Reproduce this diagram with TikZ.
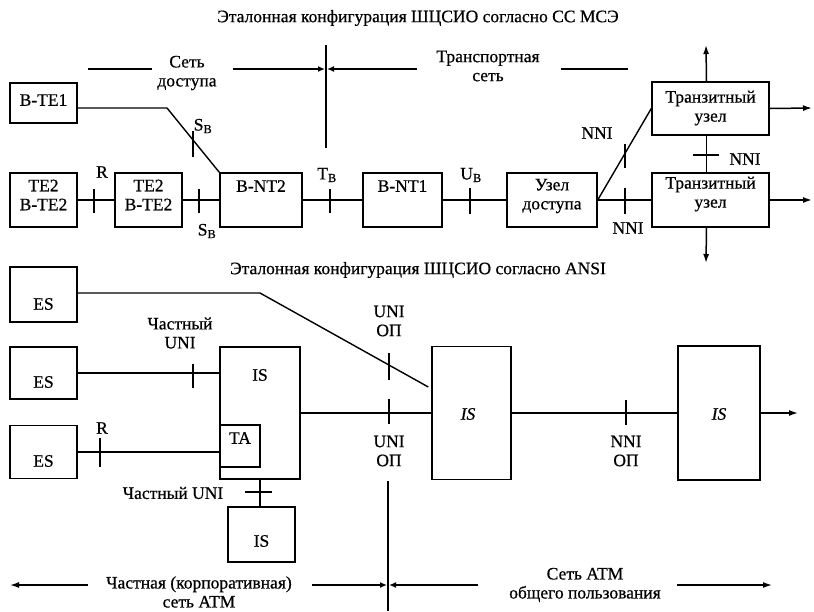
\documentclass[tikz,border=0pt]{standalone}
\usepackage{fontspec}
\setmainfont{Liberation Serif}[FakeBold=0.6]
\usetikzlibrary{arrows.meta,calc}
\begin{document}
\begin{tikzpicture}[x=1pt,y=-1pt,
  every node/.style={font=\fontsize{17.5}{19}\selectfont, inner sep=0pt},
  box/.style={draw, line width=1.4pt, align=center},
  ln/.style={line width=1.4pt},
  arr/.style={line width=1.5pt, -{Latex[length=9pt,width=6pt]}},
  sarr/.style={line width=1.4pt, -{Latex[length=7pt,width=6pt]}},
  txt/.style={align=center}]
\useasboundingbox (0,0) rectangle (814,611);
\fill[white] (0,0) rectangle (814,611);

% ---------- titles ----------
\node[txt] (title1) at (418,18) {Эталонная конфигурация ШЦСИО согласно СС МСЭ};
\node[txt] (title2) at (418,270) {Эталонная конфигурация ШЦСИО согласно ANSI};

% ---------- top: network partition ----------
\coordinate (divT) at (326,45);
\coordinate (divB) at (326,148);
\draw[ln] (divT) -- (divB);
\node[txt] (access) at (187,73) {Сеть\\доступа};
\node[txt] (transp) at (488,66) {Транспортная\\сеть};
\coordinate (aL1) at (88,69);
\coordinate (aL2) at (152,69);
\coordinate (aR1) at (233,69);
\coordinate (aTip1) at (325,69);
\coordinate (aTip2) at (327,69);
\coordinate (tR1) at (417,69);
\coordinate (tR2) at (561,69);
\coordinate (tR3) at (628,69);
\draw[ln] (aL1) -- (aL2);
\draw[sarr] (aR1) -- (aTip1);
\draw[sarr] (tR1) -- (aTip2);
\draw[ln] (tR2) -- (tR3);

% ---------- top row boxes ----------
\node[box, minimum width=67, minimum height=40] (BTE1) at (43.5,103) {};
\node (tBTE1) at (43.5,100) {B-TE1};
\node[box, minimum width=67, minimum height=54] (TEa) at (43.5,200) {};
\node[txt] (tTEa) at (43.5,195) {TE2\\B-TE2};
\node[box, minimum width=67, minimum height=54] (TEb) at (148.5,200) {};
\node[txt] (tTEb) at (148.5,195) {TE2\\B-TE2};
\node[box, minimum width=82, minimum height=54] (BNT2) at (261,200) {};
\node (tBNT2) at (261,186) {B-NT2};
\node[box, minimum width=79, minimum height=54] (BNT1) at (402.5,200) {};
\node (tBNT1) at (402.5,186) {B-NT1};
\node[box, minimum width=90, minimum height=54] (UD) at (552,200) {};
\node[txt] (tUD) at (552,196) {Узел\\доступа};
\node[box, minimum width=117, minimum height=54] (TrB) at (710.5,200) {};
\node[txt] (tTrB) at (710.5,194) {Транзитный\\узел};
\node[box, minimum width=117, minimum height=53] (TrT) at (710.5,108.5) {};
\node[txt] (tTrT) at (710.5,108) {Транзитный\\узел};

% connectors top
\coordinate (bend1) at (167,108);
\draw[ln] ($(BTE1.east)+(0,5)$) -- (bend1) -- (BNT2.north west);
\draw[ln] (TEa) -- (TEb);
\draw[ln] (TEb) -- (BNT2);
\draw[ln] (BNT2) -- (BNT1);
\draw[ln] (BNT1) -- (UD);
\draw[ln] (UD) -- (TrB);
\draw[ln] (UD.east) -- (TrT.west);
\draw[ln] ($(TrT.south)+(-4,0)$) -- ($(TrB.north)+(-4,0)$);
\coordinate (upE) at (706,45);
\coordinate (dnE) at (706,263);
\coordinate (rtE1) at (812,108);
\coordinate (rtE2) at (812,200);
\draw[arr] ($(TrT.north)+(-4,0)$) -- (upE);
\draw[arr] ($(TrB.south)+(-4,0)$) -- (dnE);
\draw[arr] (TrT.east) -- (rtE1);
\draw[arr] (TrB.east) -- (rtE2);

% ticks and labels top
\draw[ln] (193,131) -- (193,157);
\node (lSB1) at (203,126) {S\textsubscript{B}};
\draw[ln] (94,189) -- (94,213);
\node (lR1) at (102,172) {R};
\draw[ln] (199,189) -- (199,213);
\node (lSB2) at (207,231) {S\textsubscript{B}};
\draw[ln] (330,189) -- (330,213);
\node (lTB) at (327,175) {T\textsubscript{B}};
\draw[ln] (470,188) -- (470,214);
\node (lUB) at (471,175) {U\textsubscript{B}};
\draw[ln] (625,188) -- (625,214);
\node (lNNI1) at (628,228) {NNI};
\draw[ln] (625,144) -- (625,168);
\node (lNNI2) at (597,133) {NNI};
\draw[ln] (693,155) -- (719,155);
\node (lNNI3) at (745,159) {NNI};

% ---------- bottom (ANSI) ----------
\node[box, minimum width=67, minimum height=55] (ES1) at (43.5,294.5) {};
\node (tES1) at (43.5,304) {ES};
\node[box, minimum width=67, minimum height=52] (ES2) at (43.5,373) {};
\node (tES2) at (43.5,382) {ES};
\node[box, minimum width=67, minimum height=53] (ES3) at (43.5,452) {};
\node (tES3) at (43.5,461) {ES};
\node[box, minimum width=80, minimum height=132] (ISL) at (260,413) {};
\node (tISL) at (260,375) {IS};
\node[box, minimum width=40, minimum height=42] (TA) at (240,446) {};
\node (tTA) at (240,438) {TA};
\node[box, minimum width=79, minimum height=133] (ISM) at (471.5,413) {};
\node (tISM) at (468,414) {\itshape IS};
\node[box, minimum width=82, minimum height=134] (ISR) at (719,413) {};
\node (tISR) at (719,414) {\itshape IS};
\node[box, minimum width=67, minimum height=55] (ISB) at (261.5,534.5) {};
\node (tISB) at (261.5,541) {IS};

% connectors bottom
\coordinate (bend2) at (260,293);
\draw[ln] (ES1.east |- bend2) -- (bend2) -- ($(ISM.west)+(-3,-26)$);
\draw[ln] (ES2.east) -- (ISL.west |- ES2.east);
\draw[ln] (ES3.east) -- (TA.west |- ES3.east);
\draw[ln] (ISL.east) -- (ISM.west |- ISL.east);
\draw[ln] (ISM.east) -- (ISR.west);
\coordinate (rtE3) at (798,413);
\draw[arr] (ISR.east) -- (rtE3);
\draw[ln] (ISL.south) -- (ISL.south |- ISB.north);

% ticks and labels bottom
\draw[ln] (193,364) -- (193,388);
\node[txt] (lPU1) at (180,333) {Частный\\UNI};
\draw[ln] (100,438) -- (100,467);
\node (lR2) at (102,428) {R};
\draw[ln] (389,353) -- (389,380);
\node[txt] (lUO1) at (389,321) {UNI\\ОП};
\draw[ln] (389,399) -- (389,424);
\node[txt] (lUO2) at (389,451) {UNI\\ОП};
\draw[ln] (626,400) -- (626,425);
\node[txt] (lNO) at (626,451) {NNI\\ОП};
\draw[ln] (245,492) -- (272,492);
\node (lPU2) at (173,493) {Частный UNI};

% bottom partition
\coordinate (div2T) at (388,481);
\coordinate (div2B) at (388,611);
\draw[ln] (div2T) -- (div2B);
\coordinate (b1) at (88,585);
\coordinate (b1t) at (10,585);
\coordinate (b2) at (312,585);
\coordinate (b2t) at (387,585);
\coordinate (b3) at (478,585);
\coordinate (b3t) at (389,585);
\coordinate (b4) at (677,585);
\coordinate (b4t) at (772,585);
\draw[arr] (b1) -- (b1t);
\draw[sarr] (b2) -- (b2t);
\draw[sarr] (b3) -- (b3t);
\draw[arr] (b4) -- (b4t);
\node[txt] (lPriv) at (199,592) {Частная (корпоративная)\\сеть ATM};
\node[txt] (lPub) at (585,585) {Сеть ATM\\общего пользования};
\end{tikzpicture}
\end{document}
